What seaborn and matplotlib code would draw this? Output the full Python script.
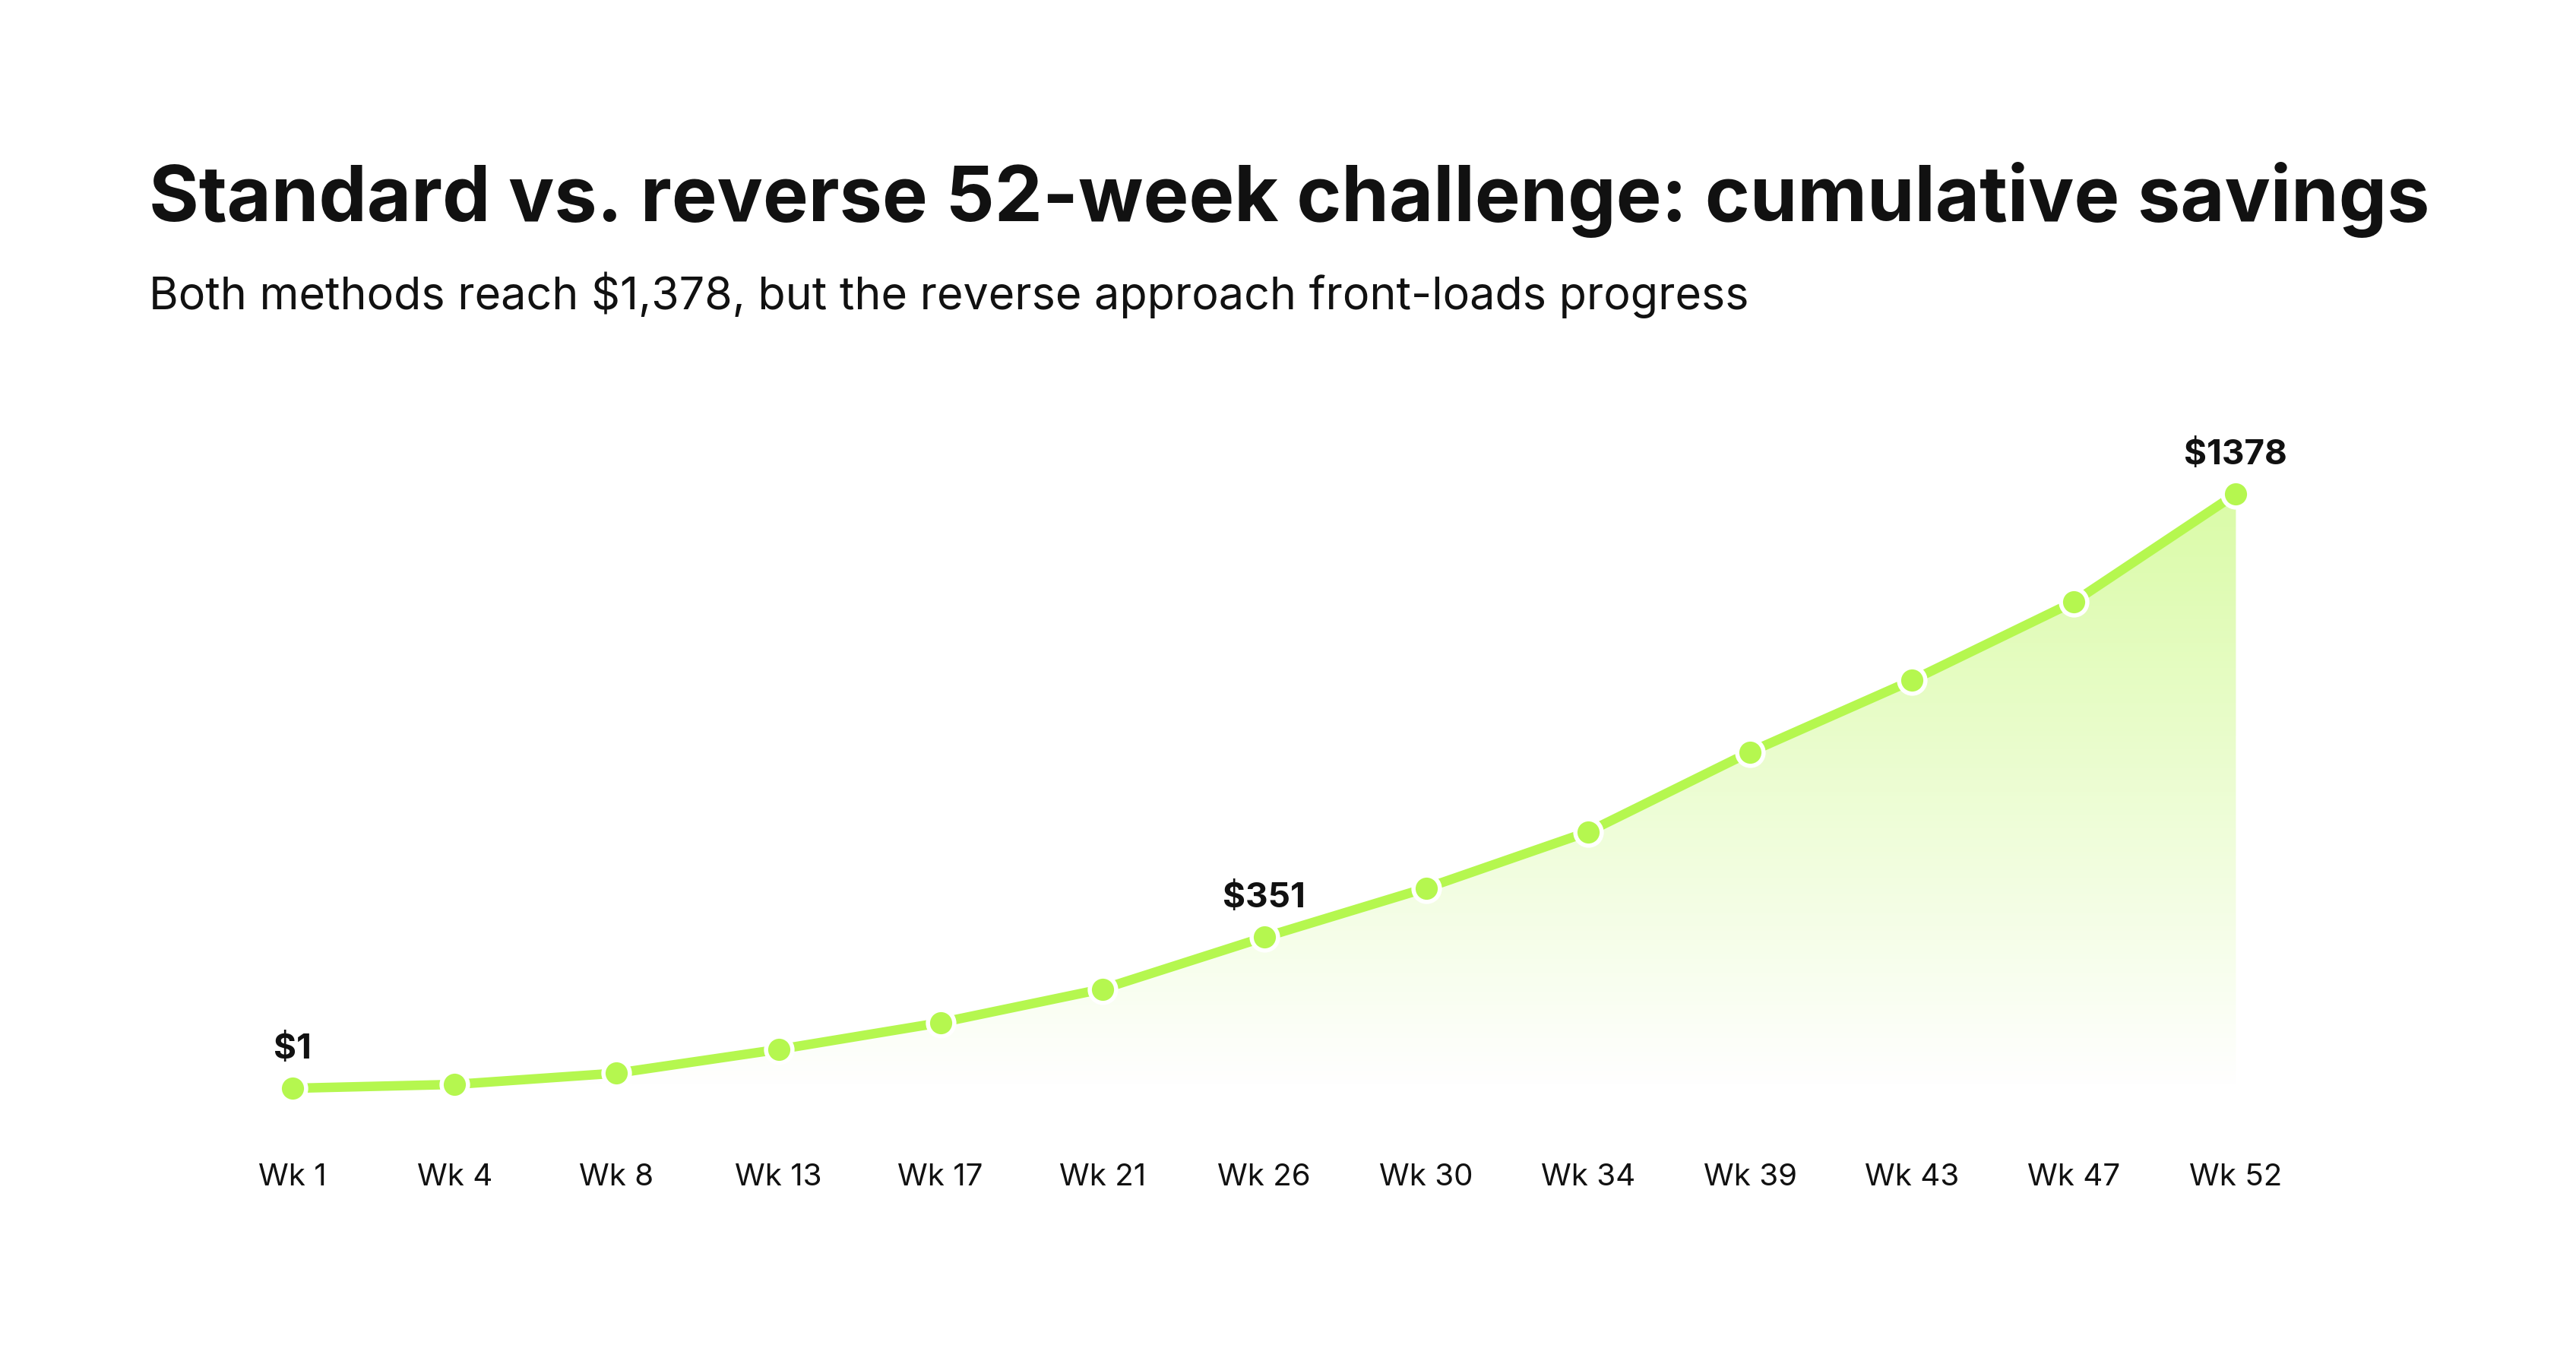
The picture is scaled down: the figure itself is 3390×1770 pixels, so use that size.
import matplotlib
matplotlib.use("Agg")
import matplotlib.pyplot as plt
import numpy as np
import pandas as pd
import seaborn as sns
from matplotlib.colors import to_rgb

# data
weeks = ["Wk 1", "Wk 4", "Wk 8", "Wk 13", "Wk 17", "Wk 21", "Wk 26",
         "Wk 30", "Wk 34", "Wk 39", "Wk 43", "Wk 47", "Wk 52"]
savings = [1, 10, 36, 91, 153, 231, 351, 465, 595, 780, 946, 1128, 1378]
labeled = ["Wk 1", "Wk 26", "Wk 52"]

title = "Standard vs. reverse 52-week challenge: cumulative savings"
subtitle = "Both methods reach $1,378, but the reverse approach front-loads progress"

lime = "#b5f74f"

sns.set_theme(style="white")
plt.rcParams['font.family'] = ['Inter', 'DejaVu Sans']

df = pd.DataFrame({"week": weeks, "savings": savings})
df["pos"] = range(len(df))

fig = plt.figure(figsize=(16.95, 8.85), dpi=200)
ax = fig.add_axes([0.0822, 0.1745, 0.8172, 0.4814])

# gradient fill under the line
grad = np.zeros((256, 1, 4))
grad[..., :3] = to_rgb(lime)
grad[..., 3] = np.linspace(0, 0.5, 256).reshape(-1, 1)
im = ax.imshow(grad, extent=[0, len(df) - 1, 0, max(savings)], origin="lower",
               aspect="auto", zorder=1)
poly = ax.fill_between(df["pos"], df["savings"], 0, facecolor="none", edgecolor="none")
im.set_clip_path(poly.get_paths()[0], transform=ax.transData)

sns.lineplot(data=df, x="pos", y="savings", ax=ax, color=lime, linewidth=4.5,
             marker="o", markersize=12.5, markeredgecolor="white",
             markeredgewidth=2, zorder=3)

for _, r in df.iterrows():
    if r["week"] in labeled:
        ax.annotate(f"${r['savings']}", (r["pos"], r["savings"]), xytext=(0, 14),
                    textcoords="offset points", ha="center", va="baseline",
                    fontsize=16.5, fontweight="bold", color="#111111")

ax.set_xlim(-0.5, len(df) - 0.5)
ax.set_ylim(-50, 1450)
ax.set_xticks(df["pos"])
ax.set_xticklabels(df["week"], fontsize=14.5, color="#111111")
ax.set_yticks([])
ax.tick_params(axis="x", length=0, pad=25)
ax.set_xlabel("")
ax.set_ylabel("")
sns.despine(ax=ax, left=True, bottom=True)

fig.text(0.0578, 0.8355, title, fontsize=36.2, fontweight="bold", color="#111111",
         ha="left", va="baseline")
fig.text(0.0578, 0.77, subtitle, fontsize=21.3, color="#111111",
         ha="left", va="baseline")

fig.savefig("out.png", dpi=200, facecolor="white")
